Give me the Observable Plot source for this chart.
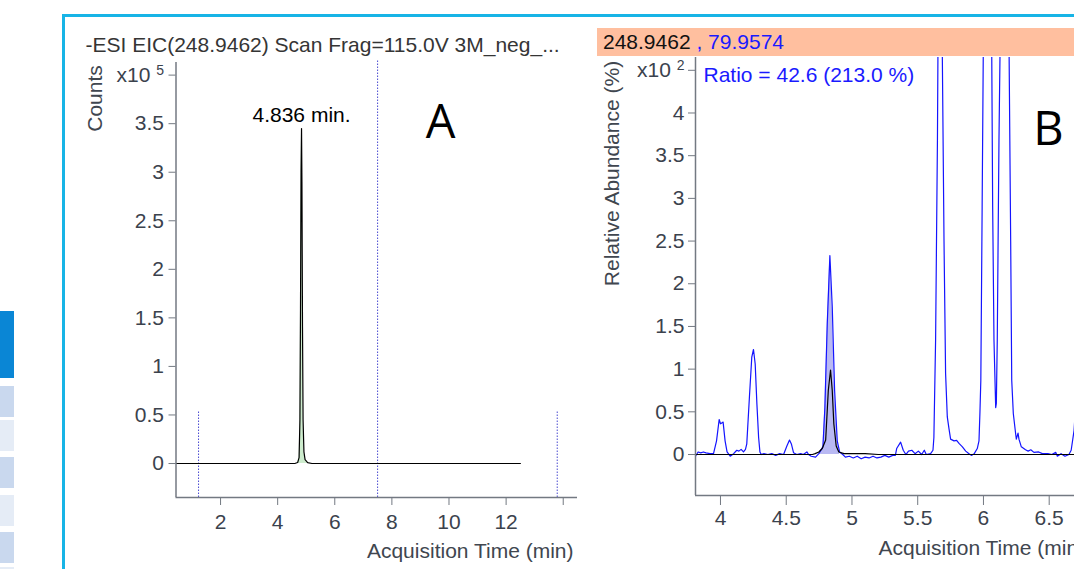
<!DOCTYPE html>
<html><head><meta charset="utf-8">
<script src="https://cdn.jsdelivr.net/npm/d3@7"></script>
<script src="https://cdn.jsdelivr.net/npm/@observablehq/plot@0.6"></script>
<style>
html,body{margin:0;padding:0;width:1074px;height:569px;overflow:hidden;background:#fff;font-family:"Liberation Sans",Arial,sans-serif;}
#page{position:relative;width:1074px;height:569px;overflow:hidden;background:#fff;}
.abs{position:absolute;}
</style></head><body><div id="page"></div>
<script>
// ---------------- Panel A: EIC 248.9462 ----------------
const titleA = "-ESI EIC(248.9462) Scan Frag=115.0V 3M_neg_...";
const timeA   = [0.45, 4.60, 4.70, 4.75, 4.78, 4.80, 4.82, 4.836, 4.85, 4.87, 4.89, 4.92, 4.96, 5.05, 5.20, 12.50];
const countsA = [0,    0,    0.01, 0.06, 0.45, 1.6,  3.0,  3.45,  2.9,  1.4,  0.45, 0.12, 0.04, 0.01, 0,    0];
const peakLabelA = "4.836 min.";
const peakTimeA = 4.836, peakHeightA = 3.45;
const markerShortA = [1.23, 13.79];
const markerLongA = [7.5];
const ticksAX = [2, 4, 6, 8, 10, 12, 14];
const ticksAY = [0, 0.5, 1, 1.5, 2, 2.5, 3, 3.5, 4];

// ---------------- Panel B: qualifier ratio ----------------
const ionQuant = "248.9462", ionQual = " , 79.9574";
const ratioText = "Ratio = 42.6 (213.0 %)";
const timeBq = [3.81,3.83,3.85,3.87,3.89,3.92,3.947,3.97,3.99,4.00,4.01,4.02,4.035,4.05,4.074,4.10,4.124,4.14,4.157,4.175,4.19,4.20,4.22,4.238,4.251,4.264,4.277,4.29,4.30,4.31,4.33,4.36,4.39,4.42,4.45,4.48,4.505,4.525,4.54,4.556,4.58,4.61,4.63,4.657,4.67,4.69,4.723,4.748,4.779,4.794,4.812,4.832,4.85,4.868,4.888,4.906,4.93,4.95,4.98,5.01,5.04,5.07,5.10,5.13,5.16,5.19,5.22,5.25,5.28,5.31,5.33,5.34,5.37,5.39,5.41,5.43,5.455,5.48,5.505,5.53,5.55,5.565,5.598,5.616,5.623,5.636,5.65,5.672,5.687,5.70,5.712,5.725,5.738,5.75,5.776,5.796,5.814,5.84,5.865,5.89,5.908,5.93,5.953,5.966,5.973,5.98,5.99,6.00,6.03,6.063,6.07,6.08,6.093,6.098,6.105,6.118,6.126,6.16,6.195,6.207,6.215,6.227,6.245,6.25,6.263,6.27,6.288,6.32,6.34,6.36,6.384,6.42,6.448,6.49,6.52,6.55,6.562,6.59,6.62,6.65,6.667,6.689,6.70];
const abundBq = [-0.02,0.03,0.02,0.03,0.02,0.01,0.01,0.16,0.41,0.36,0.37,0.38,0.16,0.03,-0.02,0.01,0.05,0.04,0.06,0.03,0.06,0.125,0.67,1.14,1.23,1.06,0.59,0.20,0.03,0.0,0.01,0.0,0.01,-0.01,0.01,0.0,0.10,0.17,0.12,0.02,0.0,0.01,0.0,0.03,0.0,-0.02,-0.03,0.01,0.09,0.55,1.53,2.33,1.73,0.75,0.16,0.03,0.0,-0.03,-0.02,-0.04,-0.02,-0.05,-0.03,-0.04,-0.02,-0.04,-0.03,-0.01,-0.03,-0.01,-0.01,0.07,0.145,0.05,0.0,0.04,0.05,0.01,0.04,0.0,0.05,0.0,0.01,0.05,0.2,1.34,3.68,9.5,4.7,2.5,0.95,0.44,0.30,0.18,0.16,0.165,0.13,0.09,0.04,0.01,-0.01,0.01,0.07,0.16,0.48,0.87,2.9,5.0,8.5,4.7,2.9,1.34,0.55,0.6,1.34,3.68,4.7,8.0,4.7,2.5,0.87,0.48,0.24,0.18,0.25,0.18,0.09,0.055,0.04,0.055,0.025,0.03,0.01,0.01,0.0,0.025,-0.02,0.01,-0.02,0.0,0.05,0.28,0.55];
const timeBm = [3.81, 4.70, 4.72, 4.748, 4.774, 4.80, 4.82, 4.837, 4.85, 4.862, 4.88, 4.90, 4.94, 5.10, 5.20, 6.70];
const abundBm = [0,    0,    0.01, 0.03,  0.07,  0.17, 0.75, 0.99,  0.75, 0.36,  0.10, 0.03, 0.01, 0.01, 0,    0];
const ticksBX = [4, 4.5, 5, 5.5, 6, 6.5];
const ticksBY = [0, 0.5, 1, 1.5, 2, 2.5, 3, 3.5, 4, 4.5];

// ---------------- helpers ----------------
const font = '"Liberation Sans", Arial, sans-serif';
const axisGray = "#737982", textGray = "#3b424d";
const page = document.getElementById("page");
function div(l, t, w, h, bg) {
  const d = document.createElement("div");
  d.className = "abs";
  Object.assign(d.style, {left: l + "px", top: t + "px", width: w + "px", height: h + "px", background: bg});
  page.appendChild(d);
  return d;
}
// left navigation strip + cyan frame (decoration)
div(0, 311, 14, 67, "#0a86d5");
[[386, "#c9d8ee"], [420, "#e5ecf6"], [457, "#c9d8ee"], [495, "#e5ecf6"], [532, "#c9d8ee"], [567, "#e5ecf6"]]
  .forEach(([t, c]) => div(0, t, 14, 31, c));
div(62, 14, 1012, 3, "#17b4e6");
div(62, 14, 3, 555, "#17b4e6");

function superscript(svg, label, base, exp) {
  svg.querySelectorAll("text").forEach(t => {
    if (t.textContent === label) {
      t.textContent = base;
      const ts = document.createElementNS("http://www.w3.org/2000/svg", "tspan");
      ts.setAttribute("font-size", "14");
      ts.setAttribute("dy", "-7");
      ts.textContent = exp;
      t.appendChild(ts);
    }
  });
}

// ---------------- Plot A ----------------
const dataA = timeA.map((t, i) => ({t, c: countsA[i]}));
const yA = [-0.35, 4.13], xA = [0.44, 14.5];
const plotA = Plot.plot({
  width: 590, height: 569,
  marginLeft: 175.5, marginRight: 13, marginTop: 62, marginBottom: 72,
  x: {domain: xA}, y: {domain: yA},
  style: {background: "transparent", maxWidth: "none", overflow: "visible", fontFamily: font, fontSize: "21px", color: textGray},
  marks: [
    Plot.areaY(dataA, {x: "t", y: "c", filter: d => d.t >= 4.70 && d.t <= 5.05, fill: "#cdeccd"}),
    Plot.ruleX(markerShortA, {y1: yA[0], y2: 0.54, stroke: "#4848d0", strokeDasharray: "1.5,1.5", strokeWidth: 1}),
    Plot.ruleX(markerLongA, {y1: yA[0], y2: 4.15, stroke: "#4848d0", strokeDasharray: "1.5,1.5", strokeWidth: 1}),
    Plot.lineY(dataA, {x: "t", y: "c", stroke: "#000", strokeWidth: 1.2}),
    Plot.ruleX([xA[0]], {stroke: axisGray, strokeWidth: 1.5}),
    Plot.ruleY([yA[0]], {stroke: axisGray, strokeWidth: 1.5}),
    Plot.axisY(ticksAY, {label: null, tickSize: 7, tickPadding: 5, stroke: axisGray, fill: textGray, fontSize: 21,
      tickFormat: d => d === 4 ? "x10 5" : String(d)}),
    Plot.axisX(ticksAX, {label: null, tickSize: 8, tickPadding: 9, stroke: axisGray, fill: textGray, fontSize: 21,
      tickFormat: d => d === 14 ? "" : String(d)}),
    Plot.text([titleA], {frameAnchor: "top-left", dx: -90.5, dy: -17, textAnchor: "start", lineAnchor: "middle", fontSize: 21, fill: "#353535"}),
    Plot.text([peakLabelA], {x: [peakTimeA], y: [peakHeightA], dy: -13, lineAnchor: "middle", fontSize: 21, fill: "#000"}),
    Plot.text(["A"], {frameAnchor: "top-left", dx: 264.5, dy: 60, textAnchor: "middle", lineAnchor: "middle", fontSize: 47, fontFamily: '"Open Sans", sans-serif', fill: "#000"}),
    Plot.text(["Counts"], {frameAnchor: "top-left", rotate: -90, dx: -80.5, dy: 36, textAnchor: "middle", lineAnchor: "middle", fontSize: 21, fill: "#40464f"}),
    Plot.text(["Acquisition Time (min)"], {frameAnchor: "bottom-right", dx: -4, dy: 54, textAnchor: "end", lineAnchor: "middle", fontSize: 21, fill: "#40464f"})
  ]
});
superscript(plotA, "x10 5", "x10 ", "5");
Object.assign(plotA.style, {position: "absolute", left: "0px", top: "0px"});
page.appendChild(plotA);

// ---------------- Plot B ----------------
const header = div(597, 28, 477, 28, "#ffbf9f");
Object.assign(header.style, {fontSize: "21px", lineHeight: "28px", paddingLeft: "6px", boxSizing: "border-box", whiteSpace: "pre", color: "#111"});
header.innerHTML = `<span>${ionQuant}</span><span style="color:#1a1aff">${ionQual}</span>`;

const dataBq = timeBq.map((t, i) => ({t, v: abundBq[i]}));
const dataBm = timeBm.map((t, i) => ({t, v: abundBm[i]}));
const yB = [-0.48, 4.65], xB = [3.81, 6.70];
const plotB = Plot.plot({
  width: 486, height: 569,
  marginLeft: 105, marginRight: 1, marginTop: 57, marginBottom: 74,
  x: {domain: xB}, y: {domain: yB},
  style: {background: "transparent", maxWidth: "none", overflow: "visible", fontFamily: font, fontSize: "21px", color: textGray},
  marks: [
    Plot.areaY(dataBq, {x: "t", y: "v", filter: d => d.t >= 4.74 && d.t <= 4.91, fill: "#b9b9f3"}),
    Plot.lineY(dataBq, {x: "t", y: "v", stroke: "#1414ff", strokeWidth: 1.2, clip: true}),
    Plot.lineY(dataBm, {x: "t", y: "v", stroke: "#000", strokeWidth: 1.2, clip: true}),
    Plot.ruleX([xB[0]], {stroke: axisGray, strokeWidth: 1.5}),
    Plot.ruleY([yB[0]], {stroke: axisGray, strokeWidth: 1.5}),
    Plot.axisY(ticksBY, {label: null, tickSize: 7, tickPadding: 4, stroke: axisGray, fill: textGray, fontSize: 21,
      tickFormat: d => d === 4.5 ? "x10 2" : String(d)}),
    Plot.axisX(ticksBX, {label: null, tickSize: 10, tickPadding: 5, stroke: axisGray, fill: textGray, fontSize: 21,
      tickFormat: d => String(d)}),
    Plot.text([ratioText], {frameAnchor: "top-left", dx: 8, dy: 18, textAnchor: "start", lineAnchor: "middle", fontSize: 21, fill: "#1a1aff"}),
    Plot.text(["B"], {frameAnchor: "top-left", dx: 353, dy: 72, textAnchor: "middle", lineAnchor: "middle", fontSize: 47, fontFamily: '"Open Sans", sans-serif', fill: "#000"}),
    Plot.text(["Relative Abundance (%)"], {frameAnchor: "top-left", rotate: -90, dx: -83, dy: 116, textAnchor: "middle", lineAnchor: "middle", fontSize: 21, fill: "#40464f"}),
    Plot.text(["Acquisition Time (min)"], {frameAnchor: "bottom-left", dx: 183, dy: 53, textAnchor: "start", lineAnchor: "middle", fontSize: 21, fill: "#40464f"})
  ]
});
superscript(plotB, "x10 2", "x10 ", "2");
Object.assign(plotB.style, {position: "absolute", left: "590px", top: "0px"});
page.appendChild(plotB);
</script>
</body></html>
